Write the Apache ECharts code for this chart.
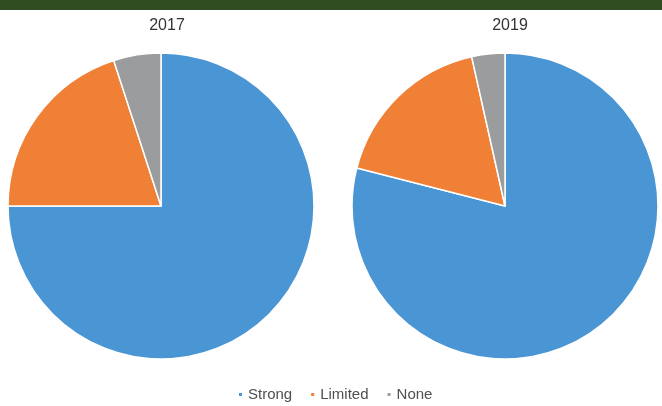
<!DOCTYPE html>
<html>
<head>
<meta charset="utf-8">
<style>
html,body{margin:0;padding:0;background:#fff;}
#chart{width:662px;height:406px;}
</style>
<script src="https://cdn.jsdelivr.net/npm/echarts@6/dist/echarts.min.js"></script>
</head>
<body>
<div id="chart"></div>
<script>
var categories = ['Strong', 'Limited', 'None'];
var years = ['2017', '2019'];
var values2017 = [75, 20, 5];
var values2019 = [79, 17.5, 3.5];
var colors = ['#4a95d3', '#ef8036', '#9b9c9e'];

var chart = echarts.init(document.getElementById('chart'), null, {renderer: 'canvas'});

function buildData(vals) {
  return categories.map(function (c, i) { return {name: c, value: vals[i]}; });
}

var font = 'Liberation Sans, Arial, sans-serif';

var option = {
  animation: false,
  color: colors,
  backgroundColor: '#ffffff',
  graphic: [{
    type: 'rect',
    shape: {x: 0, y: 0, width: 662, height: 10},
    style: {fill: '#2f4d20'},
    silent: true
  }],
  title: [
    {text: years[0], left: 162, top: 13, textAlign: 'center',
     textStyle: {fontFamily: font, fontSize: 16, fontWeight: 'normal', color: '#333333'}},
    {text: years[1], left: 505, top: 13, textAlign: 'center',
     textStyle: {fontFamily: font, fontSize: 16, fontWeight: 'normal', color: '#333333'}}
  ],
  legend: {
    data: categories,
    top: 382,
    left: 232,
    icon: 'rect',
    itemWidth: 5,
    itemHeight: 5,
    itemGap: 17,
    textStyle: {fontFamily: font, fontSize: 15, color: '#505050'}
  },
  series: [
    {
      type: 'pie',
      name: years[0],
      center: [161, 206],
      radius: 153,
      startAngle: 90,
      clockwise: true,
      label: {show: false},
      labelLine: {show: false},
      emphasis: {disabled: true},
      itemStyle: {borderColor: '#ffffff', borderWidth: 1.5},
      data: buildData(values2017)
    },
    {
      type: 'pie',
      name: years[1],
      center: [505, 206],
      radius: 153,
      startAngle: 90,
      clockwise: true,
      label: {show: false},
      labelLine: {show: false},
      emphasis: {disabled: true},
      itemStyle: {borderColor: '#ffffff', borderWidth: 1.5},
      data: buildData(values2019)
    }
  ]
};
chart.setOption(option);
</script>
</body>
</html>
